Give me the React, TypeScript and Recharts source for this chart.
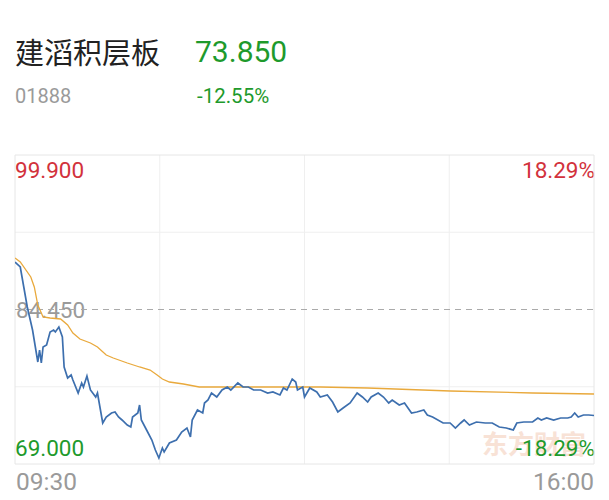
import React from 'react';
import { LineChart, Line, XAxis, YAxis, ReferenceLine } from 'recharts';

// ── quote header ──
const stockName = '建滔积层板';
const stockCode = '01888';
const lastPrice = '73.850';
const changePct = '-12.55%';

// ── axis labels ──
const priceTicks = ['99.900', '84.450', '69.000'];
const pctTicks = ['18.29%', '-18.29%'];
const timeTicks = ['09:30', '16:00'];

// ── scales (minutes since open, HK session = 330 min) ──
const PRICE_MIN = 69.0;
const PRICE_MAX = 99.9;
const PREV_CLOSE = 84.45;
const SESSION_MIN = 330;
const gridPrices = [76.725, 92.175];
const gridTimes = [82.5, 165, 247.5];

// ── price series ──
const priceTimes = [
  0, 3, 5, 7, 10, 13, 14, 15, 16, 18, 20, 22, 23, 25, 27, 28, 30, 32, 33, 36,
  38, 39, 41, 43, 46, 47, 50, 52, 55, 57, 59, 61, 64, 66, 67, 70, 71, 72, 75, 78,
  80, 82, 84, 85, 88, 92, 95, 98, 100, 101, 104, 107, 108, 110, 112, 115, 118, 121, 123, 127,
  130, 133, 136, 140, 144, 147, 151, 153, 155, 158, 160, 161, 164, 165, 168, 172, 174, 178, 181, 184,
  187, 191, 195, 198, 201, 203, 207, 210, 213, 215, 219, 222, 226, 229, 233, 235, 238, 244, 248, 251,
  254, 256, 259, 263, 268, 272, 276, 280, 284, 286, 290, 295, 298, 300, 303, 307, 311, 315, 317, 319,
  321, 324, 327, 330,
];
const priceValues = [
  89.2, 88.7, 86.7, 84.7, 82.4, 79.2, 80.4, 79.1, 80.7, 80.9, 82.2, 82.4, 82.2, 82.7, 81.7, 78.7, 77.6, 77.9, 77.4, 76.1,
  77.1, 76.7, 77.8, 76.4, 75.7, 76.1, 73.1, 73.7, 74.1, 74.2, 73.7, 73.4, 72.9, 72.7, 73.7, 74.1, 74.9, 73.4, 72.4, 71.4,
  70.4, 69.6, 70.6, 70.2, 71.1, 71.4, 72.2, 72.6, 71.7, 73.4, 74.4, 74.1, 75.1, 75.4, 76.1, 75.7, 76.4, 76.7, 76.4, 77.1,
  76.7, 76.7, 76.4, 76.4, 76.1, 76.2, 75.9, 76.6, 76.4, 77.5, 77.2, 76.4, 76.7, 75.7, 76.6, 76.2, 75.7, 75.9, 75.2, 74.2,
  74.6, 75.1, 76.1, 75.7, 75.2, 75.7, 76.1, 75.7, 75.1, 75.4, 74.9, 75.1, 74.1, 74.2, 74.4, 73.9, 73.7, 73.1, 73.1, 72.6,
  73.1, 73.4, 72.9, 73.2, 73.1, 73.1, 72.7, 72.6, 72.4, 73.1, 73.2, 73.2, 73.6, 73.4, 73.6, 73.4, 73.6, 73.6, 73.7, 74.1,
  73.7, 73.9, 73.9, 73.85,
];

// ── average price series ──
const avgTimes = [0, 3, 9, 11, 13, 16, 20, 26, 30, 33, 37, 43, 47, 52, 56, 64, 71, 77, 81, 84, 88, 96, 105, 124, 174, 201, 248, 295, 330];
const avgValues = [89.6, 89.2, 87.7, 86.7, 84.9, 83.7, 83.6, 83.5, 82.9, 82.1, 81.5, 81.1, 80.7, 79.9, 79.6, 79.1, 78.7, 78.4, 77.9, 77.5, 77.2, 77.0, 76.7, 76.7, 76.7, 76.6, 76.3, 76.1, 76.0];

const priceData = priceTimes.map((t, i) => ({ t, v: priceValues[i] }));
const avgData = avgTimes.map((t, i) => ({ t, v: avgValues[i] }));

const RED = '#d2323c';
const GREEN = '#1e9a2c';
const GRAY = '#9a9a9a';
const NUM_FONT = 'Roboto, "Noto Sans", sans-serif';

const txt = (s: React.CSSProperties): React.CSSProperties => ({
  position: 'absolute',
  whiteSpace: 'nowrap',
  fontFamily: NUM_FONT,
  lineHeight: 1,
  ...s,
});

export default function App() {
  return (
    <div style={{ position: 'absolute', left: 0, top: 0, width: 609, height: 500, background: '#fff', overflow: 'hidden' }}>
      <div style={txt({ left: 15, top: 37, fontSize: 29, color: '#222', fontFamily: '"Noto Sans CJK SC", sans-serif' })}>{stockName}</div>
      <div style={txt({ left: 195, top: 37, fontSize: 30, color: GREEN })}>{lastPrice}</div>
      <div style={txt({ left: 15, top: 86, fontSize: 20, color: GRAY })}>{stockCode}</div>
      <div style={txt({ left: 197, top: 86, fontSize: 20.5, color: GREEN })}>{changePct}</div>

      {/* labels sit under the lines, as in the app */}
      <div style={txt({ left: 482, top: 430, fontSize: 26, color: '#f8e2d6', fontFamily: '"Noto Sans CJK SC", sans-serif', fontWeight: 700 })}>东方财富</div>
      <div style={txt({ left: 15, top: 159, fontSize: 22.5, color: RED })}>{priceTicks[0]}</div>
      <div style={txt({ right: 14, top: 159, fontSize: 22.5, color: RED })}>{pctTicks[0]}</div>
      <div style={txt({ left: 16, top: 299, fontSize: 22.5, color: GRAY })}>{priceTicks[1]}</div>
      <div style={txt({ left: 15, top: 437, fontSize: 22.5, color: GREEN })}>{priceTicks[2]}</div>
      <div style={txt({ right: 14, top: 437, fontSize: 22.5, color: GREEN })}>{pctTicks[1]}</div>
      <div style={txt({ left: 16, top: 470, fontSize: 24.5, color: GRAY })}>{timeTicks[0]}</div>
      <div style={txt({ right: 15, top: 470, fontSize: 24.5, color: GRAY })}>{timeTicks[1]}</div>

      <div style={{ position: 'absolute', left: 0, top: 0 }}>
        <LineChart width={609} height={500} margin={{ top: 155, left: 15, right: 15, bottom: 36 }}>
          <XAxis type="number" dataKey="t" domain={[0, SESSION_MIN]} allowDataOverflow hide />
          <YAxis type="number" dataKey="v" domain={[PRICE_MIN, PRICE_MAX]} allowDataOverflow hide />
          {gridTimes.map((x) => (
            <ReferenceLine key={'gx' + x} x={x} stroke="#efefef" strokeWidth={1} />
          ))}
          {gridPrices.map((y) => (
            <ReferenceLine key={'gy' + y} y={y} stroke="#efefef" strokeWidth={1} />
          ))}
          <ReferenceLine x={0} stroke="#e6e6e6" />
          <ReferenceLine x={SESSION_MIN} stroke="#e6e6e6" />
          <ReferenceLine y={PRICE_MAX} stroke="#e6e6e6" />
          <ReferenceLine y={PRICE_MIN} stroke="#e6e6e6" />
          <ReferenceLine y={PREV_CLOSE} stroke="#aaaaaa" strokeDasharray="6 5" strokeWidth={1.2} />
          <Line data={avgData} dataKey="v" type="linear" stroke="#e9a93c" strokeWidth={1.3} dot={false} isAnimationActive={false} />
          <Line data={priceData} dataKey="v" type="linear" stroke="#3d6fae" strokeWidth={1.7} dot={false} isAnimationActive={false} />
        </LineChart>
      </div>
    </div>
  );
}
